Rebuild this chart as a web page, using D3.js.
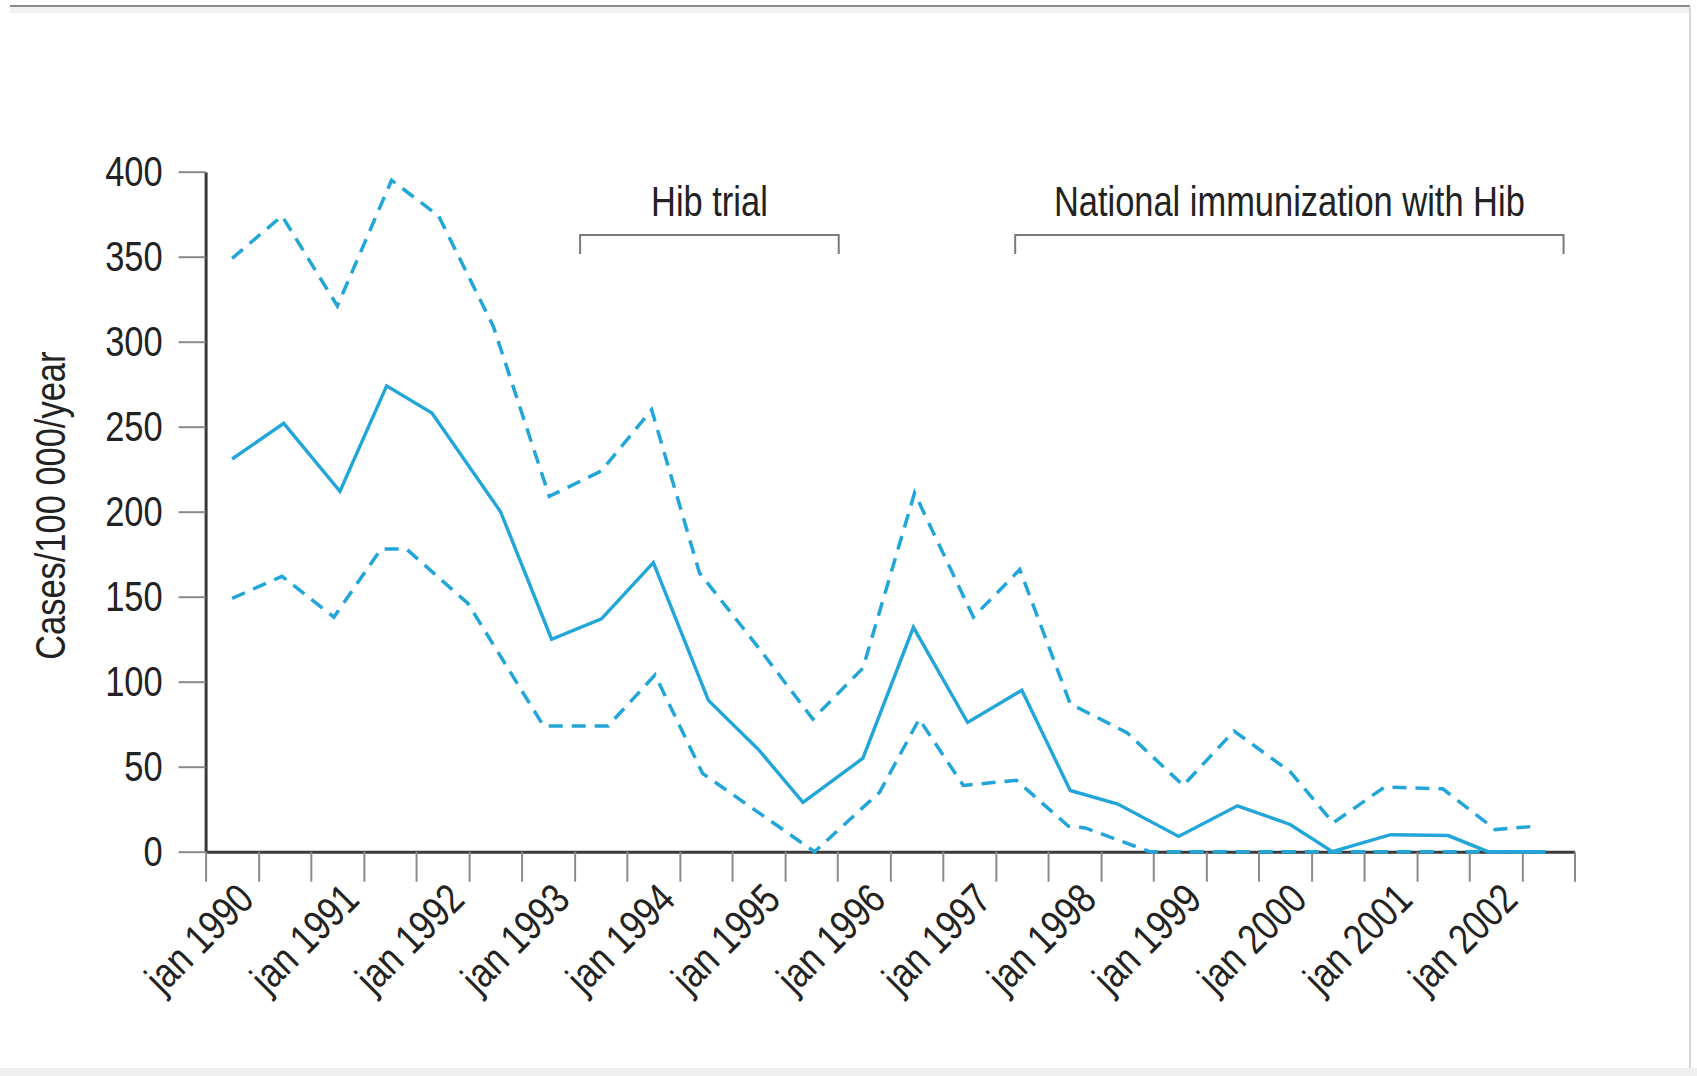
<!DOCTYPE html>
<html>
<head>
<meta charset="utf-8">
<script src="https://cdnjs.cloudflare.com/ajax/libs/d3/7.8.5/d3.min.js"></script>
<style>
  html, body { margin: 0; padding: 0; background: #fff; }
  svg { display: block; }
  text { font-family: "Liberation Sans", Arial, sans-serif; fill: #222; }
</style>
</head>
<body>
<svg id="chart" width="1697" height="1076"></svg>
<script>
// Hib meningitis incidence, half-yearly, with confidence bounds
const rateDates = ["1989-10-01","1990-03-29","1990-10-10","1991-03-21","1991-08-25","1992-04-19",
  "1992-10-13","1993-04-04","1993-10-01","1994-04-10","1994-10-01","1995-03-04","1995-09-28",
  "1996-03-21","1996-09-25","1997-04-01","1997-09-16","1998-02-28","1998-09-27","1999-04-19",
  "1999-10-19","2000-03-13","2000-10-01","2001-04-19","2001-09-04","2002-03-22"];
const rateValues = [231, 252, 212, 274, 258, 200, 125, 137, 170, 89, 60, 29, 55,
  132, 76, 95, 36, 28, 9, 27, 16, 0, 10, 9.5, 0, 0];

const upperDates = ["1989-10-01","1990-03-23","1990-10-01","1991-04-07","1991-09-17","1992-03-25",
  "1992-10-05","1993-04-04","1993-09-25","1994-03-10","1994-10-01","1995-04-07","1995-09-28",
  "1996-03-25","1996-10-15","1997-03-25","1997-09-16","1998-04-01","1998-10-13","1999-04-07",
  "1999-10-19","2000-03-16","2000-09-10","2001-03-31","2001-09-29","2002-02-15"];
const upperValues = [349, 374, 321, 395, 374, 309, 209, 224, 260, 164, 120, 78, 108,
  211, 138, 166, 87, 70, 39, 71, 47, 17, 38, 37, 13, 15];

const lowerDates = ["1989-10-01","1990-03-23","1990-09-19","1991-03-01","1991-05-29","1991-12-28",
  "1992-09-15","1993-04-27","1993-10-07","1994-03-21","1995-04-13","1995-11-25","1996-04-10",
  "1996-09-10","1997-03-13","1997-09-10","1997-11-07","1998-06-19","2002-03-22"];
const lowerValues = [149, 162, 138, 178, 178, 146, 74, 74, 104, 46, 0, 35, 78,
  39, 42, 15, 14, 0, 0];

const yTicks = [0, 50, 100, 150, 200, 250, 300, 350, 400];
const xLabelDates = ["1990-01-01","1991-01-01","1992-01-01","1993-01-01","1994-01-01","1995-01-01",
  "1996-01-01","1997-01-01","1998-01-01","1999-01-01","2000-01-01","2001-01-01","2002-01-01"];
const xLabels = ["jan 1990","jan 1991","jan 1992","jan 1993","jan 1994","jan 1995","jan 1996",
  "jan 1997","jan 1998","jan 1999","jan 2000","jan 2001","jan 2002"];

const periodLabels = ["Hib trial", "National immunization with Hib"];
const periodStarts = ["1993-01-20", "1997-03-09"];
const periodEnds = ["1995-07-06", "2002-05-24"];

const yTitle = "Cases/100 000/year";

const parse = d3.timeParse("%Y-%m-%d");
const svg = d3.select("#chart");
const lineColor = "#22a6da";
const fontSize = 42;

// frame
svg.append("rect").attr("x", 10).attr("y", 7).attr("width", 1680).attr("height", 6)
  .attr("fill", "#f3f3f3");
svg.append("line").attr("x1", 10).attr("x2", 1690).attr("y1", 6).attr("y2", 6)
  .attr("stroke", "#8a8a8a").attr("stroke-width", 2);
svg.append("line").attr("x1", 1690).attr("x2", 1690).attr("y1", 6).attr("y2", 1070)
  .attr("stroke", "#c8c8c8").attr("stroke-width", 1.5);
svg.append("rect").attr("x", 0).attr("y", 1068).attr("width", 1697).attr("height", 8)
  .attr("fill", "#f0f0f0");

const x = d3.scaleTime()
  .domain([new Date(1989, 6, 1), new Date(2002, 6, 1)])
  .range([205.6, 1574.5]);
const y = d3.scaleLinear().domain([0, 400]).range([851.7, 171.7]);

// y axis
const yAxis = svg.append("g").attr("transform", `translate(${x.range()[0]},0)`)
  .call(d3.axisLeft(y).tickValues(yTicks).tickSize(27).tickPadding(16).tickSizeOuter(0));
yAxis.select(".domain").attr("stroke", "#3a3a3a").attr("stroke-width", 3);
yAxis.selectAll(".tick line").attr("stroke", "#8a8a8a").attr("stroke-width", 2);
yAxis.selectAll(".tick text").attr("font-size", fontSize)
  .style("font-family", "'Liberation Sans', Arial, sans-serif")
  .attr("fill", "#222");

// x axis: a tick every six months, labels in january
const xTicks = x.ticks(d3.timeMonth.every(6));
const labelMap = new Map(xLabelDates.map((d, i) => [+parse(d), xLabels[i]]));
const xAxis = svg.append("g").attr("transform", `translate(0,${y(0)})`)
  .call(d3.axisBottom(x).tickValues(xTicks).tickSize(30).tickSizeOuter(0)
    .tickFormat(d => labelMap.get(+d) || ""));
xAxis.select(".domain").attr("stroke", "#3a3a3a").attr("stroke-width", 3);
xAxis.selectAll(".tick line").attr("stroke", "#8a8a8a").attr("stroke-width", 2);
xAxis.selectAll(".tick text")
  .attr("font-size", fontSize)
  .style("font-family", "'Liberation Sans', Arial, sans-serif")
  .attr("fill", "#222")
  .attr("text-anchor", "end")
  .attr("dy", 0)
  .attr("y", 0)
  .attr("transform", "translate(-3,50) rotate(-45)");

// y axis title
svg.append("text")
  .attr("transform", `translate(65,${(y(0) + y(400)) / 2 - 6}) rotate(-90)`)
  .attr("text-anchor", "middle")
  .attr("font-size", fontSize)
  .text(yTitle);

// intervention periods
periodLabels.forEach((label, i) => {
  const x0 = x(parse(periodStarts[i])), x1 = x(parse(periodEnds[i]));
  svg.append("path")
    .attr("d", `M${x0},254V235H${x1}V254`)
    .attr("fill", "none").attr("stroke", "#7a7a7a").attr("stroke-width", 2);
  svg.append("text")
    .attr("x", (x0 + x1) / 2).attr("y", 216)
    .attr("text-anchor", "middle").attr("font-size", fontSize)
    .text(label);
});

// series
const toPoints = (dates, values) => dates.map((d, i) => ({ date: parse(d), v: values[i] }));
const line = d3.line().x(d => x(d.date)).y(d => y(d.v));

svg.append("path").datum(toPoints(lowerDates, lowerValues))
  .attr("d", line).attr("fill", "none").attr("stroke", lineColor)
  .attr("stroke-width", 3.5).attr("stroke-dasharray", "14,9");
svg.append("path").datum(toPoints(upperDates, upperValues))
  .attr("d", line).attr("fill", "none").attr("stroke", lineColor)
  .attr("stroke-width", 3.5).attr("stroke-dasharray", "14,9");
svg.append("path").datum(toPoints(rateDates, rateValues))
  .attr("d", line).attr("fill", "none").attr("stroke", lineColor)
  .attr("stroke-width", 3.4).attr("stroke-linejoin", "miter");

// condensed lettering: squeeze every label horizontally
svg.selectAll("text").each(function () {
  const w = this.getComputedTextLength();
  if (w > 0) d3.select(this).attr("textLength", w * 0.82).attr("lengthAdjust", "spacingAndGlyphs");
});
</script>
</body>
</html>
